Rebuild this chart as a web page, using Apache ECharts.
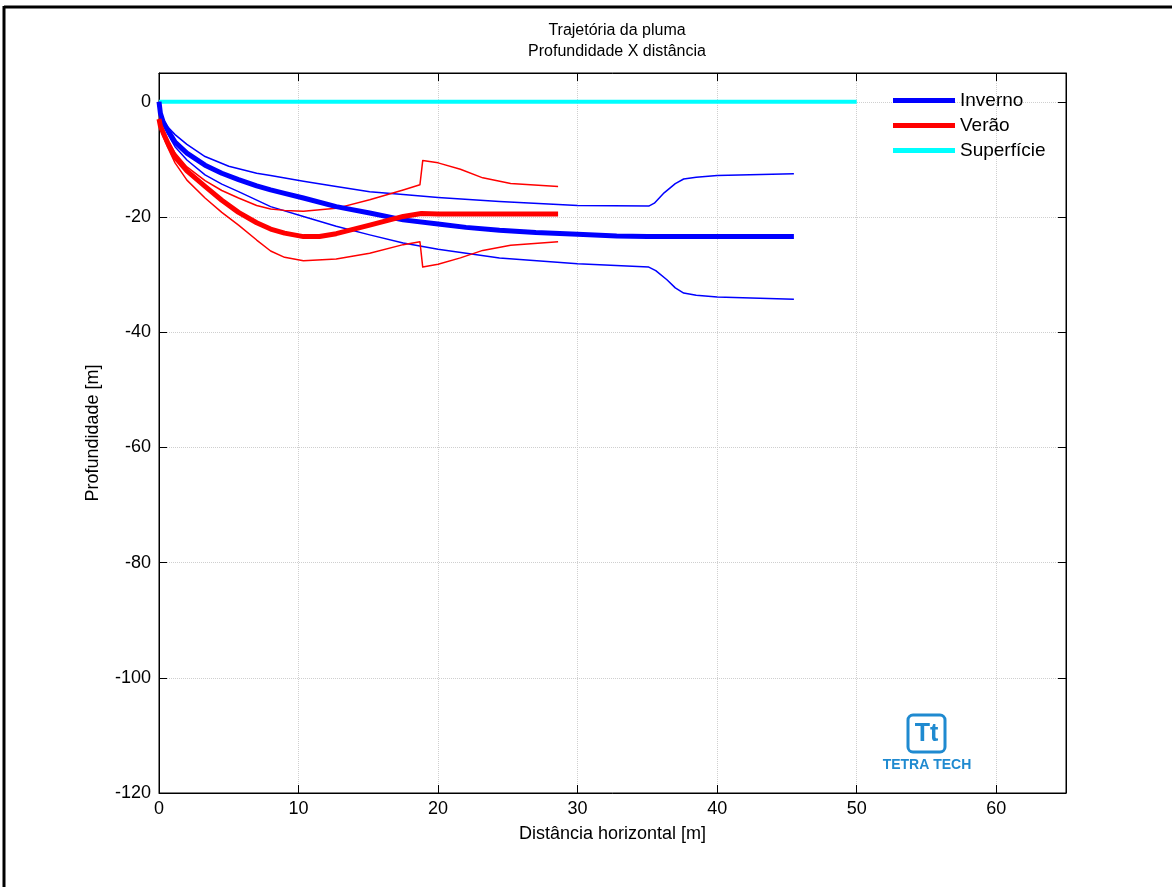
<!DOCTYPE html>
<html>
<head>
<meta charset="utf-8">
<title>Trajetória da pluma</title>
<script src="https://cdn.jsdelivr.net/npm/echarts@6/dist/echarts.min.js"></script>
<style>
    html, body { margin: 0; padding: 0; background: #fff; }
    #main { width: 1172px; height: 887px; }
</style>
</head>
<body>
<div id="main"></div>
<script>
// dados: [distância, profundidade]
var invernoCentro = [[0,0],[0.1,-2],[0.3,-3.5],[0.6,-4.8],[1.15,-7.0],[2,-8.9],[3.3,-11.0],[4.5,-12.4],[5.7,-13.5],[7,-14.6],[8,-15.3],[9,-15.9],[10.35,-16.7],[12.7,-18.2],[15.1,-19.3],[17.5,-20.5],[20,-21.2],[22,-21.8],[24.4,-22.3],[27,-22.7],[30,-23.0],[32.8,-23.3],[35,-23.4],[40,-23.4],[45.5,-23.4]];
var invernoSup = [[0,0],[0.1,-1.8],[0.3,-3],[0.6,-4.3],[1.15,-5.7],[2,-7.4],[3.3,-9.5],[5,-11.2],[7,-12.4],[8,-12.8],[10.35,-13.8],[12.7,-14.7],[15.1,-15.6],[17.5,-16.1],[20,-16.6],[24.4,-17.3],[30,-18.0],[35.1,-18.1],[35.5,-17.6],[36.2,-15.8],[37,-14.2],[37.6,-13.4],[38.5,-13.1],[40,-12.8],[45.5,-12.5]];
var invernoInf = [[0,0],[0.1,-2.2],[0.3,-3.8],[0.6,-5.5],[1.15,-7.8],[2,-10.1],[3.3,-12.7],[4.5,-14.3],[5.7,-15.6],[8,-18.2],[10.35,-19.9],[12.7,-21.6],[15.1,-23.1],[17.5,-24.5],[20,-25.6],[24.4,-27.1],[30,-28.1],[35.1,-28.7],[35.6,-29.3],[36.4,-30.9],[37,-32.3],[37.6,-33.2],[38.5,-33.6],[40,-33.9],[45.5,-34.3]];
var veraoCentro = [[0,-3],[0.1,-4.2],[0.3,-5.4],[0.6,-7],[1.15,-9.6],[2,-12.0],[3.3,-14.7],[4.5,-17.1],[5.7,-19.2],[7,-21.0],[8,-22.1],[9,-22.8],[10.35,-23.4],[11.5,-23.4],[12.7,-22.9],[15.1,-21.4],[17.5,-19.9],[18.8,-19.4],[20,-19.5],[28.6,-19.5]];
var veraoSup = [[0,-2],[0.1,-3.3],[0.3,-4.7],[0.6,-6.5],[1.15,-8.9],[2,-11.3],[3.3,-13.7],[4.5,-15.4],[5.7,-16.7],[7,-18.0],[8,-18.6],[9,-18.85],[10.35,-19.0],[12.7,-18.5],[15.1,-17.0],[17.5,-15.3],[18.7,-14.4],[18.9,-10.2],[20,-10.6],[21.6,-11.7],[23.2,-13.2],[25.2,-14.2],[28.6,-14.7]];
var veraoInf = [[0,-3],[0.1,-4.5],[0.3,-6.0],[0.6,-7.8],[1.15,-10.6],[2,-13.6],[3.3,-16.7],[4.5,-19.2],[5.7,-21.4],[7,-24.0],[8,-25.9],[9,-27.0],[10.35,-27.6],[12.7,-27.3],[15.1,-26.3],[17.5,-24.8],[18.7,-24.3],[18.9,-28.7],[20,-28.2],[21.6,-27.1],[23.2,-25.8],[25.2,-24.9],[28.6,-24.3]];
var superficie = [[0,0],[50,0]];

var xTicks = [0, 10, 20, 30, 40, 50, 60];
var yTicks = [0, -20, -40, -60, -80, -100, -120];

var fonte = '"Liberation Sans", Arial, sans-serif';
var myChart = echarts.init(document.getElementById('main'));

function linha(nome, dados, cor, largura) {
    return {
        name: nome,
        type: 'line',
        data: dados,
        showSymbol: false,
        symbol: 'none',
        silent: true,
        lineStyle: { color: cor, width: largura, join: 'round' },
        itemStyle: { color: cor }
    };
}

// eixos auxiliares (topo/direita) só para os ticks internos, como no matlab
function eixoX(pos, comLabel) {
    return {
        type: 'value', position: pos, min: 0, max: 65, interval: 10,
        name: comLabel ? 'Distância horizontal [m]' : '',
        nameLocation: 'middle', nameGap: 32,
        nameTextStyle: { color: '#000', fontSize: 18, fontFamily: fonte },
        axisLine: { show: true, onZero: false, lineStyle: { color: '#000', width: 1 } },
        axisTick: { show: true, inside: true, length: 8, lineStyle: { color: '#000' } },
        axisLabel: {
            show: comLabel, color: '#000', fontSize: 18, fontFamily: fonte, margin: 7,
            showMaxLabel: false,
            formatter: function (v) { return xTicks.indexOf(v) >= 0 ? String(v) : ''; }
        },
        splitLine: { show: comLabel, lineStyle: { color: '#cfcfcf', type: 'dotted' } }
    };
}
function eixoY(pos, comLabel) {
    return {
        type: 'value', position: pos, min: -120, max: 5, interval: 20,
        name: comLabel ? 'Profundidade [m]' : '',
        nameLocation: 'middle', nameGap: 57,
        nameTextStyle: { color: '#000', fontSize: 18, fontFamily: fonte },
        axisLine: { show: true, onZero: false, lineStyle: { color: '#000', width: 1 } },
        axisTick: { show: true, inside: true, length: 8, lineStyle: { color: '#000' } },
        axisLabel: {
            show: comLabel, color: '#000', fontSize: 18, fontFamily: fonte, margin: 8,
            showMaxLabel: false,
            formatter: function (v) { return yTicks.indexOf(v) >= 0 ? String(v) : ''; }
        },
        splitLine: { show: comLabel, lineStyle: { color: '#cfcfcf', type: 'dotted' } }
    };
}

var option = {
    animation: false,
    backgroundColor: '#fff',
    title: {
        text: 'Trajetória da pluma\nProfundidade X distância',
        left: 612, top: 15, textAlign: 'center',
        textStyle: { color: '#000', fontSize: 16, fontWeight: 'normal', fontFamily: fonte, lineHeight: 21 }
    },
    legend: {
        data: ['Inverno', 'Verão', 'Superfície'],
        orient: 'vertical',
        left: 893, top: 91, padding: 0,
        icon: 'rect', itemWidth: 62, itemHeight: 5, itemGap: 6,
        textStyle: { color: '#000', fontSize: 19, fontFamily: fonte }
    },
    grid: { left: 159, right: 106, top: 73, bottom: 94, show: true, borderColor: '#000', borderWidth: 1 },
    xAxis: [eixoX('bottom', true), eixoX('top', false)],
    yAxis: [eixoY('left', true), eixoY('right', false)],
    series: [
        linha('Superfície', superficie, '#00ffff', 4),
        linha('Inverno sup', invernoSup, '#0000ff', 1.5),
        linha('Inverno inf', invernoInf, '#0000ff', 1.5),
        linha('Verão sup', veraoSup, '#ff0000', 1.5),
        linha('Verão inf', veraoInf, '#ff0000', 1.5),
        linha('Inverno', invernoCentro, '#0000ff', 5),
        linha('Verão', veraoCentro, '#ff0000', 5)
    ],
    graphic: [
        // moldura da figura (só topo e esquerda aparecem)
        { type: 'line', shape: { x1: 4, y1: 7, x2: 1172, y2: 7 }, style: { stroke: '#000', lineWidth: 3 } },
        { type: 'line', shape: { x1: 4, y1: 6, x2: 4, y2: 887 }, style: { stroke: '#000', lineWidth: 3 } },
        // logo Tetra Tech
        { type: 'rect', shape: { x: 908, y: 715, width: 37, height: 37, r: 5 }, style: { fill: '#fff', stroke: '#1f8ad0', lineWidth: 3 } },
        { type: 'text', x: 926.5, y: 734, style: { text: 'Tt', fill: '#1f8ad0', font: 'bold 25px ' + fonte, textAlign: 'center', textVerticalAlign: 'middle' } },
        { type: 'text', x: 927, y: 765, style: { text: 'TETRA TECH', fill: '#1f8ad0', font: 'bold 14px ' + fonte, textAlign: 'center', textVerticalAlign: 'middle' } }
    ]
};
myChart.setOption(option);
</script>
</body>
</html>
